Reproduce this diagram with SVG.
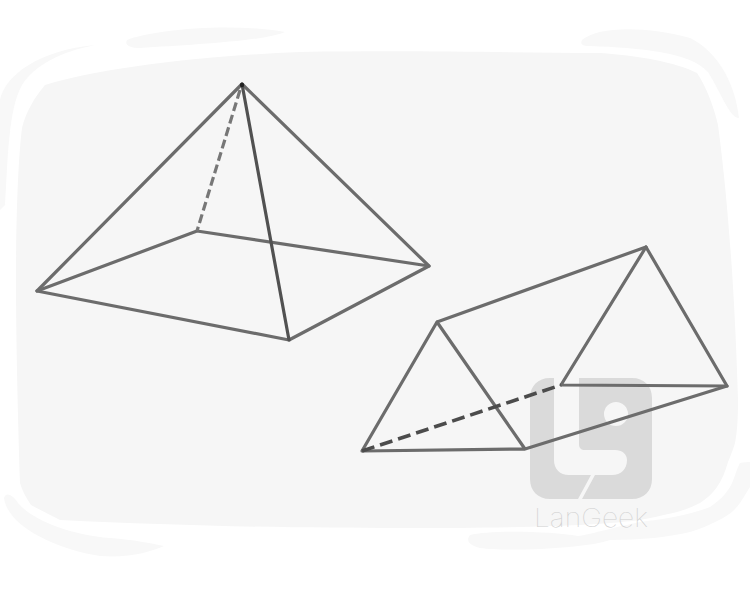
<svg xmlns="http://www.w3.org/2000/svg" width="750" height="600" viewBox="0 0 750 600">
<style>
.bg{fill:#f6f6f6;stroke:none}
.sl{fill:#f8f8f8;stroke:none}
.wm{fill:#dadada;stroke:none}
.e{fill:none;stroke:#6c6c6c;stroke-width:3.2;stroke-linecap:round;stroke-linejoin:round}
.k{stroke:#515151}
.d1{stroke-dasharray:9 4;stroke-linecap:butt;stroke:#777}
.d2{stroke-dasharray:13 6;stroke-linecap:butt;stroke:#4c4c4c;stroke-width:3.6}
</style>
<rect width="750" height="600" fill="#fff"/>
<g id="background">
<path class="bg" d="M45 85C100 68 200 56 300 52C420 50 520 53 600 53C640 56 675 62 697 73C707 88 714 108 718 125C724 170 734 260 738 400C738 420 737 432 735 443C733 450 730 457 728 462C725 472 722 480 717 487C712 494 706 499 700 503C690 508 682 511 673 513C660 516 650 518 640 520C600 525 540 528 400 528C300 528 180 526 60 520C45 512 36 508 31 505C26 498 22 490 20 483C18 420 16 340 16 280C16 220 18 160 22 128C26 112 34 98 45 85Z"/>
<path class="sl" d="M127 40C150 30 230 22 285 32C265 41 190 45 140 48C130 48 124 45 127 40Z"/>
<path class="sl" d="M95 45C60 52 35 65 22 85C8 110 8 160 5 205L0 210L0 100C5 75 40 50 95 45Z"/>
<path class="sl" d="M582 40C600 25 650 27 690 38C715 50 735 80 739 118C730 118 722 95 708 72C690 52 640 48 590 46C582 46 580 44 582 40Z"/>
<path class="sl" d="M4 498C6 492 12 494 18 503C32 520 70 535 110 538C135 540 150 543 164 546C150 552 130 558 100 556C60 550 8 528 4 498Z"/>
<path class="sl" d="M470 535C490 530 550 531 578 536C590 535 620 525 647 521C665 519 690 515 710 507C720 500 725 495 730 487C735 478 736 470 740 463C744 462 748 462 750 462L750 487C745 495 742 500 740 503C735 510 730 514 723 518C712 524 700 529 690 532C670 537 640 540 610 540C590 548 510 552 480 548C468 545 466 540 470 535Z"/>
</g>
<g id="watermark">
<path class="wm" fill-rule="evenodd" d="M550 378H554V460C554 469 560 475 569 475H591L578 499H550C538 499 530 491 530 479V398C530 386 538 378 550 378ZM579 378H632C644 378 652 386 652 398V479C652 491 644 499 632 499H582L595 475H612C621 475 627 469 627 460C627 454 622 450 615 450H585C581 450 579 448 579 444ZM616 402A12 12 0 1 0 616 426A12 12 0 1 0 616 402Z"/>
<text x="534" y="527" font-family="Inter,'Liberation Sans',sans-serif" font-size="26" font-weight="100" fill="#cfcfcf" textLength="114" lengthAdjust="spacingAndGlyphs">LanGeek</text>
</g>
<g id="connectors">
<path class="e" d="M242 84L37 291L289 340L429 266L242 84"/>
<path class="e" d="M37 291L197 231L429 266"/>
<path class="e k" d="M242 84L289 340"/>
<path class="e d1" d="M240 90L197 231"/>
<path class="e" d="M437 322L646 247L727 386L525 449L362 451L437 322L525 449"/>
<path class="e" d="M646 247L561 385L727 386"/>
<path class="e d2" d="M362 451L561 385"/>
<circle cx="242" cy="85" r="2.200" fill="#222"/>
</g>
</svg>
